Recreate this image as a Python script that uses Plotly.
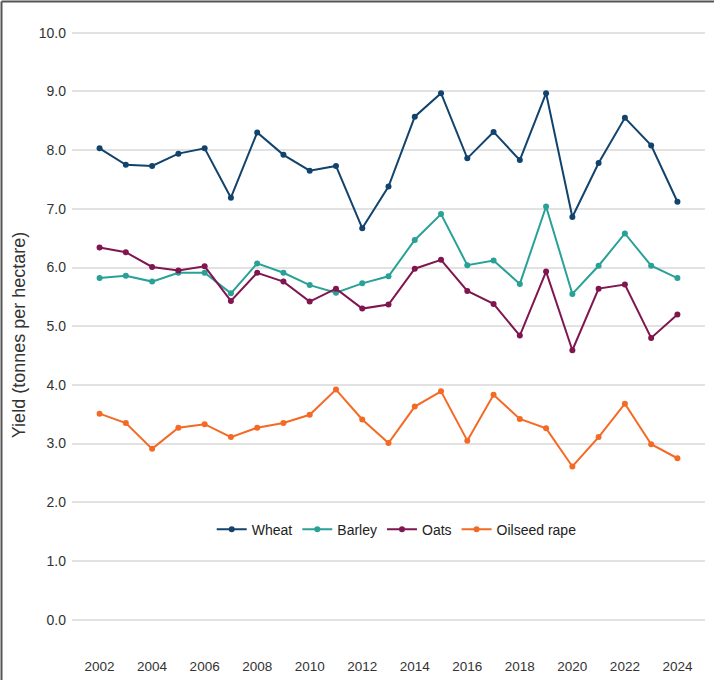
import plotly.graph_objects as go

years = list(range(2002, 2025))
wheat = [8.03, 7.75, 7.73, 7.94, 8.03, 7.19, 8.30, 7.92, 7.65, 7.73, 6.67, 7.38,
         8.57, 8.97, 7.86, 8.31, 7.83, 8.97, 6.86, 7.78, 8.55, 8.08, 7.12]
barley = [5.82, 5.86, 5.76, 5.91, 5.91, 5.56, 6.07, 5.91, 5.70, 5.57, 5.73, 5.85,
          6.47, 6.91, 6.04, 6.12, 5.72, 7.04, 5.55, 6.03, 6.58, 6.03, 5.82]
oats = [6.34, 6.26, 6.01, 5.95, 6.02, 5.43, 5.91, 5.76, 5.42, 5.64, 5.30, 5.37,
        5.98, 6.13, 5.60, 5.38, 4.84, 5.93, 4.59, 5.64, 5.71, 4.80, 5.20]
oilseed = [3.51, 3.35, 2.91, 3.27, 3.33, 3.11, 3.27, 3.35, 3.49, 3.92, 3.41, 3.01,
           3.63, 3.89, 3.05, 3.83, 3.42, 3.26, 2.61, 3.11, 3.68, 2.99, 2.75]

series_names = ["Wheat", "Barley", "Oats", "Oilseed rape"]
series_values = [wheat, barley, oats, oilseed]
colors = ["#12436D", "#28A197", "#801650", "#F46A25"]

x_ticks = list(range(2002, 2025, 2))
y_ticks = [i * 1.0 for i in range(0, 11)]

FONT = "Liberation Sans, Arial, sans-serif"
W, H = 714, 680
ML, MR, MT, MB = 72, 9, 21, 31
pw = W - ML - MR
ph = H - MT - MB

fig = go.Figure()
for name, vals, col in zip(series_names, series_values, colors):
    fig.add_trace(go.Scatter(
        x=years, y=vals, name=name, mode="lines+markers",
        line=dict(color=col, width=2),
        marker=dict(color=col, size=6),
    ))

# image frame (left and top edges)
top_y = (H - 1.5 - MB) / ph
left_x = (1.5 - ML) / pw
fig.add_shape(type="line", xref="paper", yref="paper",
              x0=left_x, x1=(W - ML) / pw, y0=top_y, y1=top_y,
              line=dict(color="#555555", width=2))
fig.add_shape(type="line", xref="paper", yref="paper",
              x0=left_x, x1=left_x, y0=-MB / ph, y1=top_y,
              line=dict(color="#555555", width=2))

fig.update_layout(
    width=W, height=H,
    margin=dict(l=ML, r=MR, t=MT, b=MB, autoexpand=False),
    paper_bgcolor="white", plot_bgcolor="white",
    font=dict(family=FONT, color="#333333", size=14),
    showlegend=True,
    legend=dict(orientation="h", x=0.513, y=0.19, xanchor="center", yanchor="middle",
                font=dict(size=14, color="#222222"), bgcolor="rgba(0,0,0,0)",
                itemwidth=30, tracegroupgap=0),
    xaxis=dict(range=[2000.95, 2025.05], tickvals=x_ticks, ticktext=[str(v) for v in x_ticks],
               showgrid=False, zeroline=False, showline=False, ticks="",
               tickfont=dict(size=13.5, color="#333333"), ticklabelstandoff=7),
    yaxis=dict(range=[-0.5, 10.2], tickvals=y_ticks, ticktext=[f"{v:.1f}" for v in y_ticks],
               showgrid=True, gridcolor="#e2e2e2", gridwidth=1.5, zeroline=False,
               showline=False, ticks="", tickfont=dict(size=14, color="#333333"),
               ticklabelstandoff=5,
               title=dict(text="Yield (tonnes per hectare)", font=dict(size=18, color="#333333"),
                          standoff=8)),
)

fig.write_html("out.html", config={"displayModeBar": False},
               post_script="document.body.style.margin='0';")
